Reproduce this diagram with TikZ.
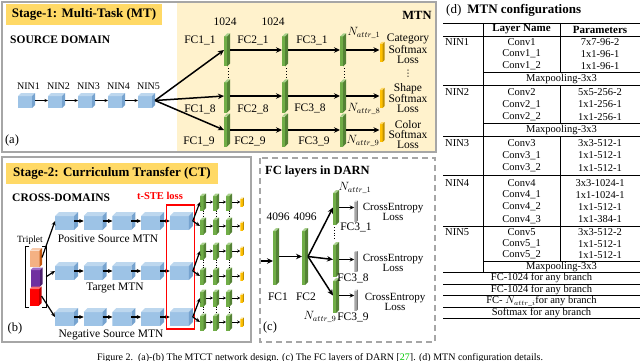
\documentclass[tikz,border=0pt]{standalone}
\usepackage{fontspec}
\setmainfont{Liberation Serif}
\newfontfamily\symfont{DejaVu Sans}
\usepackage{amsmath}
\usepackage{xcolor}
\usetikzlibrary{positioning, fit, arrows.meta, calc}

\definecolor{panelgray}{RGB}{166,166,166}
\definecolor{stagegold}{RGB}{255,217,102}
\definecolor{mtnbg}{RGB}{255,242,204}
\definecolor{cubefront}{RGB}{157,195,230}
\definecolor{cubetop}{RGB}{189,215,238}
\definecolor{cubeside}{RGB}{118,163,207}
\definecolor{barfront}{RGB}{112,173,71}
\definecolor{bartop}{RGB}{169,209,142}
\definecolor{barside}{RGB}{84,130,53}
\definecolor{lossfront}{RGB}{255,192,0}
\definecolor{losstop}{RGB}{255,217,102}
\definecolor{lossside}{RGB}{191,144,0}
\definecolor{peach}{RGB}{244,177,131}
\definecolor{peachtop}{RGB}{248,203,173}
\definecolor{peachside}{RGB}{197,90,17}
\definecolor{plum}{RGB}{112,48,160}
\definecolor{plumtop}{RGB}{158,107,199}
\definecolor{plumside}{RGB}{75,31,110}
\definecolor{brick}{RGB}{255,0,0}
\definecolor{bricktop}{RGB}{255,110,110}
\definecolor{brickside}{RGB}{192,0,0}
\definecolor{refgreen}{RGB}{0,200,0}

\begin{document}
\begin{tikzpicture}[x=1pt, y=-1pt,
	font=\fontsize{11}{10}\selectfont,
	box3d/.style n args={4}{inner sep=0pt, outer sep=0pt, path picture={
			\fill[#2] (path picture bounding box.south west) rectangle ([xshift=-#1,yshift=-#1]path picture bounding box.north east);
			\fill[#3] ([yshift=-#1]path picture bounding box.north west) -- ([xshift=#1]path picture bounding box.north west) -- (path picture bounding box.north east) -- ([xshift=-#1,yshift=-#1]path picture bounding box.north east) -- cycle;
			\fill[#4] ([xshift=-#1]path picture bounding box.south east) -- ([yshift=#1]path picture bounding box.south east) -- (path picture bounding box.north east) -- ([xshift=-#1,yshift=-#1]path picture bounding box.north east) -- cycle;}},
	nin/.style={box3d={3pt}{cubefront}{cubetop}{cubeside}, minimum width=17pt, minimum height=15pt},
	mtncube/.style={box3d={4pt}{cubefront}{cubetop}{cubeside}, minimum width=23pt, minimum height=18pt},
	fcbar/.style={box3d={3pt}{barfront}{bartop}{barside}, minimum width=6pt, minimum height=33pt},
	minibar/.style={box3d={2.5pt}{barfront}{bartop}{barside}, minimum width=6pt, minimum height=17pt},
	lossbar/.style={box3d={2pt}{lossfront}{losstop}{lossside}, minimum width=5pt, minimum height=20pt},
	miniloss/.style={box3d={1pt}{lossfront}{losstop}{lossside}, minimum width=3.5pt, minimum height=9pt},
	grayloss/.style={box3d={1pt}{panelgray}{panelgray!60}{panelgray!70!black}, minimum width=3.5pt, minimum height=21pt},
	panel/.style={draw=panelgray, line width=2pt},
	dashbox/.style={draw=panelgray, line width=2pt, dash pattern=on 6pt off 4pt},
	stagebox/.style={fill=stagegold, font=\bfseries\fontsize{13}{13}\selectfont, inner sep=0pt, minimum height=21pt},
	head/.style={font=\bfseries\fontsize{11.5}{12}\selectfont, inner sep=0pt, anchor=west},
	txt/.style={inner sep=0pt, font=\fontsize{11.5}{10}\selectfont, align=center},
	nintxt/.style={inner sep=0pt, font=\fontsize{10}{10}\selectfont},
	tag/.style={inner sep=0pt, font=\fontsize{12.5}{12}\selectfont},
	dotcol/.style={inner sep=0pt, font=\symfont\fontsize{9}{9}\selectfont},
	omit/.style={dotted, line width=0.8pt, shorten <=2pt, shorten >=2pt},
	tcell/.style={inner sep=0pt, font=\fontsize{10.5}{10.5}\selectfont},
	tline/.style={line width=0.8pt},
	ar/.style={-{Stealth[length=6pt,width=5.5pt]}, line width=1.5pt},
	mar/.style={-{Stealth[length=4.5pt,width=4pt]}, line width=1.2pt},
	sar/.style={-{Stealth[length=3.5pt,width=3pt]}, line width=0.9pt},
	tar/.style={-{Stealth[length=3pt,width=3pt]}, line width=0.8pt}
	]
	\useasboundingbox (0,0) rectangle (640,361);

	% (a) stage 1
	\draw[panel] (2,2) rectangle (436,152);
	\fill[mtnbg] (177,3) rectangle (435,151);
	\node[stagebox, minimum width=156pt] (stage1) at (84,14.5) {Stage-1: Multi-Task (MT)};
	\node[head] (srcdom) at (10,40) {SOURCE DOMAIN};
	\node[head, anchor=center, font=\bfseries\fontsize{12.5}{12}\selectfont] (mtnhead) at (417,15) {MTN};
	\foreach \i in {1,...,5} {
		\node[nin] (nin\i) at ({-3.5+30*\i},100.5) {};
		\node[nintxt] (nint\i) at ({-1.5+30*\i},86) {NIN\i};
	}
	\foreach \i/\j in {1/2,2/3,3/4,4/5} \draw[sar] (nin\i) -- (nin\j);
	\foreach \r/\y in {1/50,8/96,9/130} {
		\foreach \c/\x in {1/227,2/285,3/343}
			\node[fcbar] (fc\c\r) at (\x,\y) {};
		\node[lossbar] (loss\r) at (382,\y+2) {};
		\draw[ar] (nin5.east) -- (fc1\r.west);
		\draw[ar] (fc1\r) -- (fc2\r);
		\draw[ar] (fc2\r) -- (fc3\r);
		\draw[ar] (fc3\r) -- (loss\r.west |- fc3\r);
	}
	\foreach \c in {1,2,3}
		\draw[omit] ([xshift=1.5pt]fc\c1.south) -- ([xshift=1.5pt]fc\c8.north);
	\foreach \c/\r/\x/\y in {1/1/200/40, 2/1/253/40, 3/1/312/40, 1/8/200/109, 2/8/253/109, 3/8/310/108, 1/9/199/141, 2/9/250/141, 3/9/314/141}
		\node[txt] (fct\c\r) at (\x,\y) {FC\c\_\r};
	\node[txt] (wa1) at (225,22) {1024};
	\node[txt] (wa2) at (273,22) {1024};
	\node[txt] (nat1) at (364,33) {$N_{attr\_1}$};
	\node[txt] (nat8) at (364,109) {$N_{attr\_8}$};
	\node[txt] (nat9) at (363,141) {$N_{attr\_9}$};
	\node[dotcol] (dtl) at (408,74) {⋮};
	\node[txt] (lcat) at (408,49) {Category\\Softmax\\Loss};
	\node[txt] (lshape) at (408,98) {Shape\\Softmax\\Loss};
	\node[txt] (lcolor) at (408,135) {Color\\Softmax\\Loss};
	\node[tag] (taga) at (12,140) {(a)};

	% (b) stage 2
	\draw[panel] (2,157) rectangle (251,342);
	\node[stagebox, minimum width=212pt] (stage2) at (112,173.5) {Stage-2: Curriculum Transfer (CT)};
	\node[head] (crossdom) at (12,198) {CROSS-DOMAINS};
	\node[head, anchor=center, text=red, font=\bfseries\fontsize{10.5}{10}\selectfont] (tstelbl) at (160,196) {t-STE loss};
	\foreach \r/\y in {1/221,2/271,3/317} {
		\foreach \c in {1,...,5}
			\node[mtncube] (c\r\c) at ({37.8+28.7*\c},\y) {};
		\foreach \c/\n in {1/2,2/3,3/4,4/5}
			\draw[mar] ([xshift=-4pt]c\r\c.east) -- (c\r\n.west);
	}
	\node[txt] (posl) at (108,239) {Positive Source MTN};
	\node[txt] (tarl) at (115,288) {Target MTN};
	\node[txt] (negl) at (111,335) {Negative Source MTN};
	\node[draw=red, line width=1.5pt, minimum width=28pt, minimum height=124pt, inner sep=0pt] (tste) at (180.5,267) {};
	\foreach \m/\ya/\yb in {1/202/226, 2/251/276, 3/298/322} {
		\foreach \k/\y in {a/\ya, b/\yb} {
			\foreach \c/\x in {1/203,2/216,3/229}
				\node[minibar] (mb\m\k\c) at (\x,\y) {};
			\node[miniloss] (ml\m\k) at (242,\y) {};
			\draw[mar] (c\m5.east) -- (mb\m\k1.west);
			\draw[tar] (mb\m\k1) -- (mb\m\k2);
			\draw[tar] (mb\m\k2) -- (mb\m\k3);
			\draw[tar] (mb\m\k3) -- (ml\m\k.west |- mb\m\k3);
		}
		\foreach \c in {1,2,3}
			\draw[dotted, line width=0.6pt] (mb\m a\c.south) -- (mb\m b\c.north);
	}
	\node[txt, font=\fontsize{9.5}{9}\selectfont] (tripl) at (30,240) {Triplet};
	\node[box3d={2.5pt}{peach}{peachtop}{peachside}, minimum width=12pt, minimum height=19pt] (tp1) at (36,257.5) {};
	\node[box3d={2.5pt}{plum}{plumtop}{plumside}, minimum width=12pt, minimum height=19pt] (tp2) at (36.5,277) {};
	\node[box3d={2.5pt}{brick}{bricktop}{brickside}, minimum width=12pt, minimum height=19pt] (tp3) at (35.5,296) {};
	\node[fit=(tp1)(tp3), inner xsep=4pt, inner ysep=1.5pt] (trip) {};
	\draw[line width=1.3pt] ([xshift=4pt]trip.north west) -- (trip.north west) -- (trip.south west) -- ([xshift=4pt]trip.south west);
	\draw[line width=1.3pt] ([xshift=-4pt]trip.north east) -- (trip.north east) -- (trip.south east) -- ([xshift=-4pt]trip.south east);
	\draw[mar] (tp1.east) -- (c11.west);
	\draw[mar] (trip.east) -- (c21.west);
	\draw[mar] (tp3.east) -- (c31.west);
	\node[tag] (tagb) at (15,328) {(b)};

	% (c) DARN
	\draw[dashbox] (260,158) rectangle (435,342);
	\node[head, font=\bfseries\fontsize{12.5}{12}\selectfont] (darnhead) at (265,172) {FC layers in DARN};
	\coordinate (darnin) at (261,261);
	\node[fcbar, minimum height=57pt] (dfc1) at (276,256.5) {};
	\node[fcbar, minimum height=57pt] (dfc2) at (305,256.5) {};
	\foreach \r/\y/\g in {1/207.5/211, 8/259.5/261.5, 9/295.5/300} {
		\node[fcbar, minimum height=35pt] (d3\r) at (336,\y) {};
		\node[grayloss] (gl\r) at (356,\g) {};
		\draw[ar] (dfc2.east) -- (d3\r.west);
		\draw[mar] (d3\r) -- (d3\r -| gl\r.west);
	}
	\draw[omit] ([xshift=-2pt]d31.south) -- ([xshift=-2pt]d38.north);
	\draw[ar] (darnin) -- (darnin -| dfc1.west);
	\draw[ar] (dfc1) -- (dfc2);
	\node[txt] (dw1) at (278,217) {4096};
	\node[txt] (dw2) at (305,217) {4096};
	\node[txt] (dl1) at (278,297) {FC1};
	\node[txt] (dl2) at (306,297) {FC2};
	\node[txt] (dl31) at (356,227) {FC3\_1};
	\node[txt] (dl38) at (353,278) {FC3\_8};
	\node[txt] (dl39) at (353,317) {FC3\_9};
	\node[txt] (dnat1) at (355,188) {$N_{attr\_1}$};
	\node[txt] (dnat9) at (320,317) {$N_{attr\_9}$};
	\node[txt, font=\fontsize{11}{10}\selectfont] (ce1) at (393,212) {CrossEntropy\\Loss};
	\node[txt, font=\fontsize{11}{10}\selectfont] (ce8) at (393,263) {CrossEntropy\\Loss};
	\node[txt, font=\fontsize{11}{10}\selectfont] (ce9) at (395,302) {CrossEntropy\\Loss};
	\node[tag] (tagc) at (270,327) {(c)};

	% (d) table
	\node[anchor=west, inner sep=0pt, font=\fontsize{13}{13}\selectfont] (dhead) at (446,10) {(d)\hspace{6pt}\textbf{MTN configurations}};
	\foreach \y in {23,36,85.5,136.5,175.5,226,272,284,295.5,307,318} \draw[tline] (443,\y) -- (640,\y);
	\foreach \y in {72.5,123.5,261} \draw[tline] (483,\y) -- (640,\y);
	\draw[tline] (483,23) -- (483,272);
	\draw[tline] (560,23) -- (560,72.5) (560,85.5) -- (560,123.5) (560,136.5) -- (560,261);
	\node[tcell, font=\bfseries\fontsize{11}{11}\selectfont] (hlay) at (521.5,29.5) {Layer Name};
	\node[tcell, font=\bfseries\fontsize{11}{11}\selectfont] (hpar) at (600,29.5) {Parameters};
	\foreach \k/\y in {1/42,2/92,3/143,4/183,5/232.5}
		\node[tcell, anchor=west] (tnin\k) at (445,\y) {NIN\k};
	\foreach \n/\y/\l/\p in {1/42/Conv1/7x7-96-2, 2/54/Conv1\_1/1x1-96-1, 3/66/Conv1\_2/1x1-96-1,
		5/92/Conv2/5x5-256-2, 6/104.5/Conv2\_1/1x1-256-1, 7/117/Conv2\_2/1x1-256-1,
		9/143/Conv3/3x3-512-1, 10/155.5/Conv3\_1/1x1-512-1, 11/168/Conv3\_2/1x1-512-1,
		12/183/Conv4/3x3-1024-1, 13/195/Conv4\_1/1x1-1024-1, 14/207/Conv4\_2/1x1-512-1, 15/219.5/Conv4\_3/1x1-384-1,
		16/232.5/Conv5/3x3-512-2, 17/244/Conv5\_1/1x1-512-1, 18/255/Conv5\_2/1x1-512-1} {
		\node[tcell] (lay\n) at (521.5,\y) {\l};
		\node[tcell] (par\n) at (600,\y) {\p};
	}
	\foreach \k/\y in {1/79,2/130,3/266.5}
		\node[tcell] (mp\k) at (561.5,\y) {Maxpooling-3x3};
	\node[tcell] (fcr1) at (541.5,278) {FC-1024 for any branch};
	\node[tcell] (fcr2) at (541.5,289.5) {FC-1024 for any branch};
	\node[tcell] (fcr3) at (541.5,301) {FC- $N_{attr\_i}$for any branch};
	\node[tcell] (fcr4) at (541.5,312.5) {Softmax for any branch};

	% caption
	\node[anchor=base, inner sep=0pt, font=\fontsize{10}{10}\selectfont] (caption) at (320,360) {Figure 2.\ \ (a)-(b) The MTCT network design. (c) The FC layers of DARN [\textcolor{refgreen}{27}]. (d) MTN configuration details.};
\end{tikzpicture}
\end{document}
